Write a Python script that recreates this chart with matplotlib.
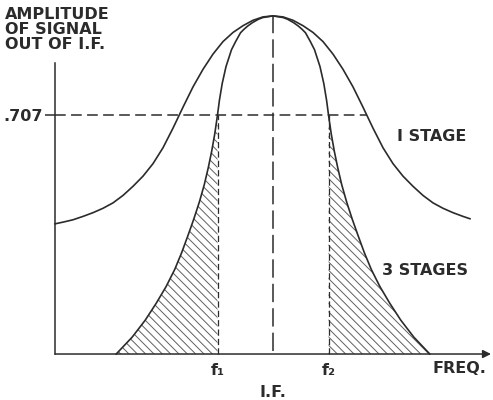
"""IF response of one and three stages, with the 0.707 points f1 and f2 marked."""

import numpy as np
import matplotlib.pyplot as plt

# Response curves: frequency offset from the IF
# (arbitrary units) and relative amplitude (1.0 at the peak).
one_stage_freq = [-21.8, -21, -20, -19, -18, -17, -16, -15, -14, -13, -12, -11, -10,
                  -9, -8, -7, -6, -5, -4, -3, -2, -1, 0,
                  1, 2, 3, 4, 5, 6, 7, 8, 9, 10, 11, 12, 13, 14, 15, 16, 17, 18, 19, 19.7]
one_stage_amp = [0.385, 0.390, 0.397, 0.407, 0.418, 0.431, 0.447, 0.469, 0.496, 0.526,
                 0.563, 0.610, 0.668, 0.730, 0.790, 0.842, 0.887, 0.924, 0.951, 0.971,
                 0.987, 0.997, 1.0,
                 0.997, 0.987, 0.971, 0.951, 0.924, 0.887, 0.842, 0.790, 0.730, 0.668,
                 0.610, 0.563, 0.526, 0.496, 0.469, 0.447, 0.431, 0.418, 0.407, 0.400]

three_stage_freq = [-15.68, -14.08, -12.78, -11.68, -10.68, -9.83, -9.13, -8.51, -7.91,
                    -7.36, -6.88, -6.48, -6.13, -5.83, -5.55, -5.36, -5.08, -4.70, -4.15,
                    -3.72, -3.25, -2.92, -2.53, -2.06, -1.46, -1.03, 0,
                    1.03, 1.46, 2.06, 2.53, 2.92, 3.25, 3.72, 4.15, 4.70, 5.08, 5.36,
                    5.55, 5.83, 6.13, 6.48, 6.88, 7.36, 7.91, 8.51, 9.13, 9.83, 10.68,
                    11.68, 12.78, 14.08, 15.68]
three_stage_amp = [0.0, 0.05, 0.10, 0.15, 0.20, 0.25, 0.30, 0.35, 0.40, 0.45, 0.50,
                   0.55, 0.60, 0.65, 0.707, 0.75, 0.80, 0.85, 0.90, 0.925, 0.95, 0.96,
                   0.97, 0.98, 0.99, 0.995, 1.0,
                   0.995, 0.99, 0.98, 0.97, 0.96, 0.95, 0.925, 0.90, 0.85, 0.80, 0.75,
                   0.707, 0.65, 0.60, 0.55, 0.50, 0.45, 0.40, 0.35, 0.30, 0.25, 0.20,
                   0.15, 0.10, 0.05, 0.0]

half_power = 0.707
f1, f2 = -5.55, 5.55
one_stage_cross = 9.37
axis_left, axis_right = -21.8, 21.8
axis_top = 0.86

ink = "#2b2b2b"
plt.rcParams["hatch.linewidth"] = 0.7
plt.rcParams["hatch.color"] = "#606060"

fig = plt.figure(figsize=(4.93, 4.0), dpi=100)
ax = fig.add_axes([0, 0, 1, 1])
ax.set_xlim(-27.3, 22.0)
ax.set_ylim(-0.136, 1.047)

x1 = np.array(one_stage_freq)
y1 = np.array(one_stage_amp)
x3 = np.array(three_stage_freq)
y3 = np.array(three_stage_amp)

# Hatched skirts of the 3-stage curve outside f1..f2.
for mask in (x3 <= f1, x3 >= f2):
    ax.fill_between(x3[mask], y3[mask], 0, facecolor="none", edgecolor="#606060",
                    hatch="\\\\\\\\", linewidth=0)

ax.plot(x1, y1, color=ink, lw=1.2, solid_joinstyle="round")
ax.plot(x3, y3, color=ink, lw=1.2, solid_joinstyle="round")

# Dashed guides.
ax.plot([axis_left, one_stage_cross], [half_power, half_power], color=ink, lw=1.1,
        ls=(0, (7, 3.5)))
ax.plot([0, 0], [0.01, 1.0], color=ink, lw=1.1, ls=(0, (12, 4)))
for f in (f1, f2):
    ax.plot([f, f], [0, half_power], color=ink, lw=0.9, ls=(0, (5, 2.5)))

# Axes: plain left spine, arrowed frequency axis.
for side in ("top", "right", "bottom"):
    ax.spines[side].set_visible(False)
ax.spines["left"].set_position(("data", axis_left))
ax.spines["left"].set_bounds(0, axis_top)
ax.spines["left"].set_color(ink)
ax.spines["left"].set_linewidth(1.1)
ax.annotate("", xy=(axis_right, 0), xytext=(axis_left, 0),
            arrowprops=dict(arrowstyle="-|>", color=ink, lw=1.1, mutation_scale=12,
                            shrinkA=0, shrinkB=0))

ax.set_xticks([])
ax.set_yticks([half_power])
ax.set_yticklabels([".707"])
ax.tick_params(axis="y", length=7, width=1.1, color=ink, pad=2, labelsize=11.5,
               labelcolor=ink)
for lbl in ax.get_yticklabels():
    lbl.set_fontweight("bold")

txt = dict(color=ink, fontsize=11.5, fontweight="bold")
ax.text(-26.8, 1.025, "AMPLITUDE\nOF SIGNAL\nOUT OF I.F.", ha="left", va="top",
        linespacing=1.0, **txt)
ax.text(12.4, 0.642, "I STAGE", ha="left", va="center", **txt)
ax.text(10.9, 0.246, "3 STAGES", ha="left", va="center", **txt)
ax.text(f1, -0.05, "f₁", ha="center", va="center", **txt)
ax.text(f2, -0.05, "f₂", ha="center", va="center", **txt)
ax.text(15.9, -0.044, "FREQ.", ha="left", va="center", **txt)
ax.text(0, -0.115, "I.F.", ha="center", va="center", **txt)

fig.savefig("out.png", dpi=100)
